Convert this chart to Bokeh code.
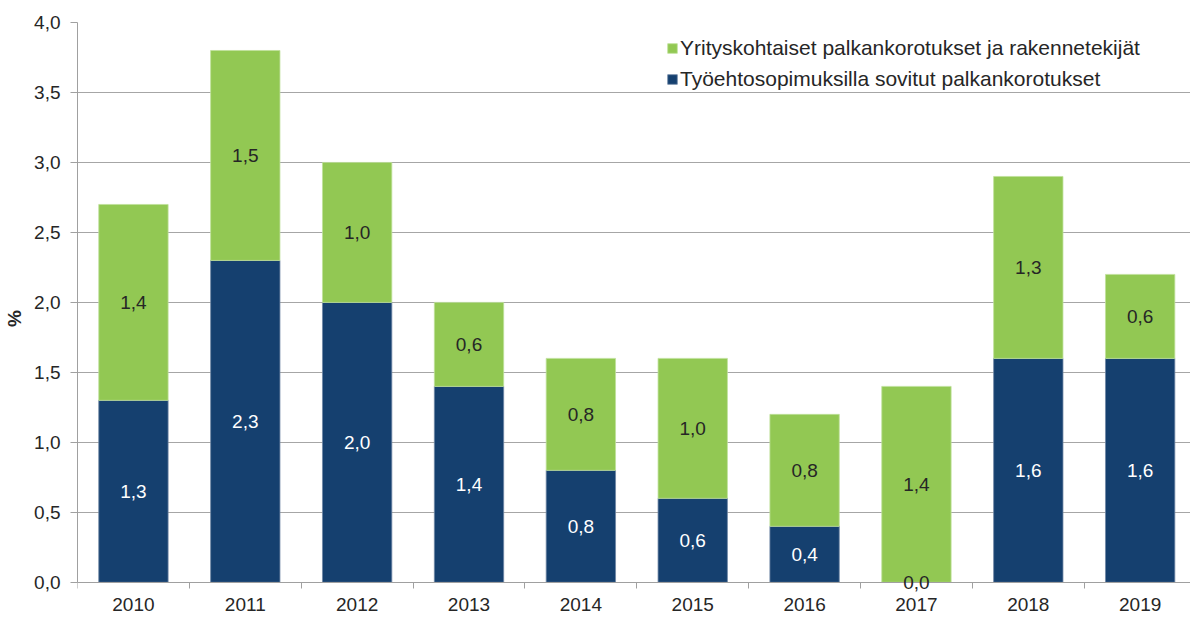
from bokeh.plotting import figure
from bokeh.models import (ColumnDataSource, FixedTicker, CustomJSTickFormatter,
                          Legend, LegendItem, Range1d, Label)
from bokeh.embed import file_html
from bokeh.resources import INLINE

years = [2010, 2011, 2012, 2013, 2014, 2015, 2016, 2017, 2018, 2019]
sopimus = [1.3, 2.3, 2.0, 1.4, 0.8, 0.6, 0.4, 0.0, 1.6, 1.6]
yritys = [1.4, 1.5, 1.0, 0.6, 0.8, 1.0, 0.8, 1.4, 1.3, 0.6]
y_ticks = [0.0, 0.5, 1.0, 1.5, 2.0, 2.5, 3.0, 3.5, 4.0]
series_names = ["Työehtosopimuksilla sovitut palkankorotukset",
                "Yrityskohtaiset palkankorotukset ja rakennetekijät"]

BLUE = "#15406f"
GREEN = "#92c853"
DARK = "#262626"
FONT = "Liberation Sans"

fmt = lambda v: f"{v:.1f}".replace(".", ",")
src = ColumnDataSource(dict(x=years, sopimus=sopimus, yritys=yritys))

# the frame extends below zero so that the "0,0" label and the year labels are
# not clipped; the x axis is pinned at y = 0
p = figure(width=1190, height=614, output_backend="svg", toolbar_location=None,
           x_range=Range1d(years[0] - 0.5, years[-1] + 0.45),
           y_range=Range1d(y_ticks[0] - 0.23, y_ticks[-1]),
           min_border_left=77, min_border_right=0, min_border_top=22, min_border_bottom=0)
p.outline_line_color = None
p.background_fill_color = "white"
p.border_fill_color = "white"

r = p.vbar_stack(["sopimus", "yritys"], x="x", width=0.62, source=src,
                 color=[BLUE, GREEN], line_color=["#6f87a5", "#bfe19a"], line_width=0.8)

# value labels, centred in each segment
for x, b, g in zip(years, sopimus, yritys):
    p.add_layout(Label(x=x, y=b / 2, text=fmt(b), text_color="white" if b > 0 else DARK,
                       text_font=FONT, text_font_size="19px", text_align="center",
                       text_baseline="middle", level="overlay"))
    p.add_layout(Label(x=x, y=b + g / 2, text=fmt(g), text_color=DARK,
                       text_font=FONT, text_font_size="19px", text_align="center",
                       text_baseline="middle", level="overlay"))

# axes
p.xaxis.fixed_location = 0
p.xaxis.ticker = FixedTicker(ticks=years, minor_ticks=[y - 0.5 for y in years] + [years[-1] + 0.5])
p.xaxis.major_label_overrides = {y: str(y) for y in years}
p.xaxis.major_tick_out = 0
p.xaxis.major_tick_in = 0
p.xaxis.minor_tick_out = 6
p.xaxis.minor_tick_in = 0
p.xaxis.minor_tick_line_color = "#a0a0a0"
p.xaxis.axis_line_color = "#a0a0a0"
p.xaxis.major_label_standoff = 10
p.xaxis.major_label_text_font = FONT
p.xaxis.major_label_text_font_size = "19px"
p.xaxis.major_label_text_color = DARK

p.yaxis.bounds = (y_ticks[0], y_ticks[-1])
p.yaxis.ticker = FixedTicker(ticks=y_ticks, minor_ticks=[])
p.yaxis.formatter = CustomJSTickFormatter(code="return tick.toFixed(1).replace('.', ',');")
p.yaxis.major_tick_out = 7
p.yaxis.major_tick_in = 0
p.yaxis.major_tick_line_color = "#a0a0a0"
p.yaxis.axis_line_color = "#a0a0a0"
p.yaxis.major_label_standoff = 10
p.yaxis.major_label_text_font = FONT
p.yaxis.major_label_text_font_size = "19px"
p.yaxis.major_label_text_color = DARK
p.yaxis.axis_label = "%"
p.yaxis.axis_label_text_font = FONT
p.yaxis.axis_label_text_font_size = "19px"
p.yaxis.axis_label_text_font_style = "bold"
p.yaxis.axis_label_text_color = DARK
p.yaxis.axis_label_standoff = 6

p.xgrid.grid_line_color = None
p.ygrid.grid_line_color = "#a6a6a6"
p.ygrid.grid_line_width = 1

legend = Legend(items=[LegendItem(label=series_names[1], renderers=[r[1]]),
                       LegendItem(label=series_names[0], renderers=[r[0]])],
                location=(589, 523), orientation="vertical",
                glyph_width=12, glyph_height=12, label_height=24, spacing=7,
                padding=5, margin=0, label_standoff=2,
                label_text_font=FONT, label_text_font_size="21px", label_text_color=DARK,
                border_line_color=None, background_fill_color="white", background_fill_alpha=1)
p.add_layout(legend)

open("out.html", "w").write(file_html(p, INLINE))
